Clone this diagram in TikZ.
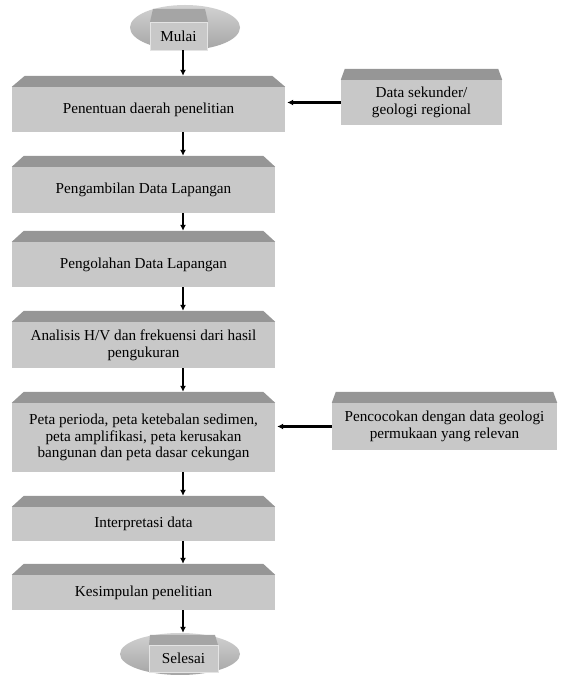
\documentclass[tikz,border=0pt]{standalone}
\usepackage{fontspec}
\setmainfont{Liberation Serif}
\usetikzlibrary{positioning, arrows.meta, calc, shapes.geometric}
\definecolor{facegray}{RGB}{200,200,200}
\definecolor{bevelgray}{RGB}{150,150,150}
\definecolor{termlight}{RGB}{210,210,210}
\definecolor{termdark}{RGB}{165,165,165}
\tikzset{
  stepbox/.style={
    fill=facegray,
    minimum height=45pt,
    minimum width=263pt,
    inner sep=2pt,
    font=\fontsize{15.2}{16.8}\selectfont,
    align=center
  },
  termbase/.style={
    ellipse, top color=termlight, bottom color=termdark,
    inner sep=0pt
  },
  termface/.style={
    fill=facegray, draw=facegray!50!white, line width=0.4pt,
    inner sep=0pt,
    font=\fontsize{15.2}{16.8}\selectfont
  },
  flow/.style={-{Latex[length=6pt,width=6pt]}, line width=1.3pt, black},
  feed/.style={-{Latex[length=6pt,width=6pt]}, line width=2.2pt, black}
}
% top face of a box, #2 = side inset
\newcommand{\bevel}[2]{
  \fill[bevelgray] (#1.north west) -- ($(#1.north west)+(#2,11)$) -- ($(#1.north east)+(-#2,11)$) -- (#1.north east) -- cycle;
  \coordinate (#1_top) at ($(#1.north)+(0,11)$);
}

\begin{document}
\begin{tikzpicture}[x=1pt, y=1pt]
\useasboundingbox (0,0) rectangle (561,677);
\coordinate (spine) at (183,0);

% Start
\node[termbase, minimum width=110pt, minimum height=45pt] (mulai) at (185,649.5) {};
\fill[bevelgray!70!facegray] (150,655) -- (153,668) -- (205,668) -- (208,655) -- cycle;
\node[termface, minimum width=57pt, minimum height=28pt] (mulai_face) at (178.5,641) {Mulai};

% Main steps
\node[stepbox, minimum width=273pt] (penentuan) at (148.5,567.5) {Penentuan daerah penelitian};
\bevel{penentuan}{13}
\node[stepbox, minimum height=46pt] (pengambilan) at (143.5,487) {Pengambilan Data Lapangan};
\bevel{pengambilan}{12}
\node[stepbox] (pengolahan) at (143.5,412.5) {Pengolahan Data Lapangan};
\bevel{pengolahan}{12}
\node[stepbox, minimum height=46pt] (analisis) at (143.5,332) {Analisis H/V dan frekuensi dari hasil\\pengukuran};
\bevel{analisis}{12}
\node[stepbox, minimum height=69pt] (peta) at (143.5,239.5) {Peta perioda, peta ketebalan sedimen,\\peta amplifikasi, peta kerusakan\\bangunan dan peta dasar cekungan};
\bevel{peta}{12}
\node[stepbox, minimum height=34pt] (interpretasi) at (143.5,153) {Interpretasi data};
\bevel{interpretasi}{12}
\node[stepbox, minimum height=35pt] (kesimpulan) at (143.5,84.5) {Kesimpulan penelitian};
\bevel{kesimpulan}{12}

% Side inputs
\node[stepbox, minimum width=161pt] (sekunder) at (421.5,574.5) {Data sekunder/\\geologi regional};
\bevel{sekunder}{4}
\node[stepbox, minimum width=225pt, minimum height=47pt] (pencocokan) at (444.5,250.5) {Pencocokan dengan data geologi\\permukaan yang relevan};
\bevel{pencocokan}{4}

% End
\node[termbase, minimum width=120pt, minimum height=42pt] (selesai) at (180,23) {};
\fill[bevelgray!70!facegray] (149,32) -- (150,42) -- (215,42) -- (218,32) -- cycle;
\node[termface, minimum width=69pt, minimum height=27pt] (selesai_face) at (183.5,18.5) {Selesai};

% Flow down the spine
\draw[flow] (mulai.south -| spine) -- (penentuan_top -| spine);
\draw[flow] (penentuan.south -| spine) -- (pengambilan_top -| spine);
\draw[flow] (pengambilan.south -| spine) -- (pengolahan_top -| spine);
\draw[flow] (pengolahan.south -| spine) -- (analisis_top -| spine);
\draw[flow] (analisis.south -| spine) -- (peta_top -| spine);
\draw[flow] (peta.south -| spine) -- (interpretasi_top -| spine);
\draw[flow] (interpretasi.south -| spine) -- (kesimpulan_top -| spine);
\draw[flow] (kesimpulan.south -| spine) -- (selesai.north -| spine);

% Inputs from the right
\draw[feed] (sekunder.west) -- ($(sekunder.west -| penentuan.east)+(2,0)$);
\draw[feed] (pencocokan.west) -- ($(pencocokan.west -| peta.east)+(2,0)$);

\end{tikzpicture}
\end{document}
